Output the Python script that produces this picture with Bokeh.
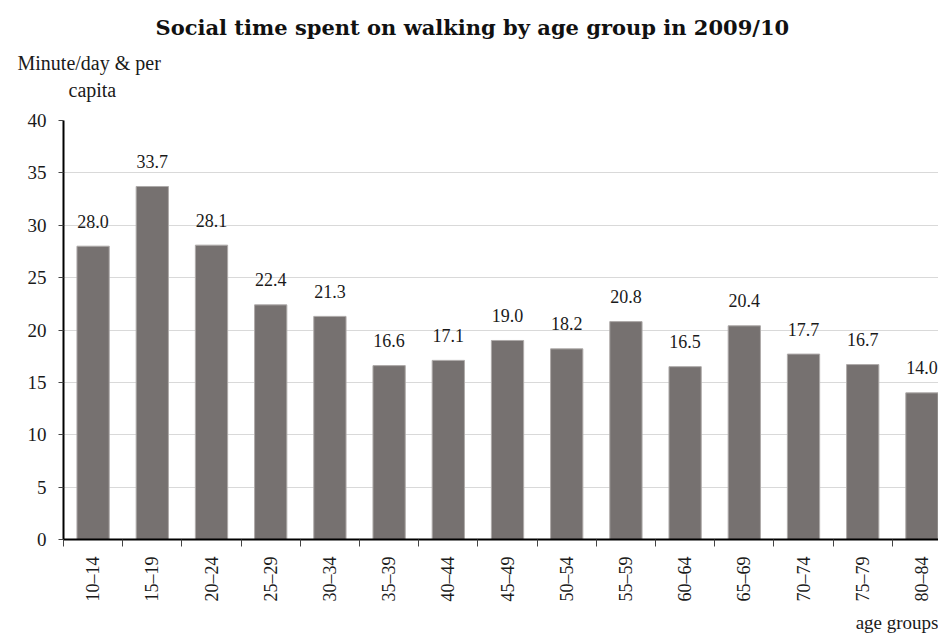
import math
from bokeh.plotting import figure
from bokeh.models import Range1d, FixedTicker, Title, ColumnDataSource, LinearAxis
from bokeh.core.properties import value
from bokeh.embed import file_html
from bokeh.resources import INLINE

categories = ["10–14", "15–19", "20–24", "25–29", "30–34", "35–39", "40–44", "45–49",
              "50–54", "55–59", "60–64", "65–69", "70–74", "75–79", "80–84"]
minutes = [28.0, 33.7, 28.1, 22.4, 21.3, 16.6, 17.1, 19.0, 18.2, 20.8, 16.5, 20.4, 17.7, 16.7, 14.0]
y_ticks = [0, 5, 10, 15, 20, 25, 30, 35, 40]

title_text = "Social time spent on walking by age group in 2009/10"
ylabel_lines = ["Minute/day & per", "capita"]
xlabel_text = "age groups"

FONT = "Liberation Serif"
TXT = "#1a1a1a"

xs = list(range(len(categories)))
src = ColumnDataSource(dict(x=xs, top=minutes, lab=[f"{v:.1f}" for v in minutes]))

p = figure(width=938, height=642, output_backend="svg", toolbar_location=None,
           x_range=Range1d(-0.5, 14.28), y_range=Range1d(0, 40),
           min_border_left=63, min_border_right=0, min_border_top=120, min_border_bottom=103)
p.outline_line_color = None
p.background_fill_color = "white"
p.border_fill_color = "white"

p.vbar(x="x", top="top", width=0.545, bottom=0, source=src,
       fill_color="#767170", line_color="#aeaaa9", line_width=1)

p.text(x="x", y="top", text="lab", source=src, text_align="center",
       text_baseline="alphabetic", y_offset=-25,
       text_font=value(FONT), text_font_size="18px", text_color=TXT)

# grid
p.xgrid.grid_line_color = None
p.ygrid.grid_line_color = "#d9d9d9"
p.ygrid.grid_line_width = 1
p.ygrid.ticker = FixedTicker(ticks=y_ticks)

# y axis
ya = p.yaxis[0]
ya.ticker = FixedTicker(ticks=y_ticks)
ya.axis_line_color = "black"
ya.axis_line_width = 2
ya.major_tick_line_color = "#444444"
ya.major_tick_out = 5
ya.major_tick_in = 0
ya.minor_tick_line_color = None
ya.major_label_standoff = 12
ya.major_label_text_font = FONT
ya.major_label_text_font_size = "19px"
ya.major_label_text_color = TXT

# x axis
xa = p.xaxis[0]
xa.ticker = FixedTicker(ticks=xs, minor_ticks=[i - 0.5 for i in range(len(categories) + 1)])
xa.major_label_overrides = {i: c for i, c in enumerate(categories)}
xa.major_label_orientation = math.pi / 2
xa.axis_line_color = "black"
xa.axis_line_width = 2
xa.major_tick_line_color = None
xa.major_tick_out = 7
xa.major_tick_in = 0
xa.minor_tick_line_color = "#444444"
xa.minor_tick_out = 7
xa.minor_tick_in = 0
xa.major_label_standoff = 10
xa.major_label_text_font = FONT
xa.major_label_text_font_size = "18px"
xa.major_label_text_color = TXT

# invisible spacer between the frame and the caption lines
spacer = LinearAxis(ticker=FixedTicker(ticks=[0]), axis_line_color=None,
                    major_tick_line_color=None, minor_tick_line_color=None,
                    major_tick_out=20, major_tick_in=0, minor_tick_out=0, minor_tick_in=0,
                    major_label_standoff=0, major_label_overrides={0: ""},
                    major_label_text_font_size="1px", major_label_text_alpha=0)
p.add_layout(spacer, "above")

# y-axis caption lines
t_cap = Title(text=ylabel_lines[1], align="left", offset=5, standoff=0,
              text_font=FONT, text_font_size="20px", text_font_style="normal", text_color=TXT)
t_min = Title(text=ylabel_lines[0], align="left", offset=-46, standoff=6,
              text_font=FONT, text_font_size="20px", text_font_style="normal", text_color=TXT)
p.add_layout(t_cap, "above")
p.add_layout(t_min, "above")

# title
p.title.text = title_text
p.title.align = "left"
p.title.offset = 92
p.title.standoff = 14
p.title.text_font = "DejaVu Serif"
p.title.text_font_size = "21px"
p.title.text_font_style = "bold"
p.title.text_color = "#111111"

t_x = Title(text=xlabel_text, align="right", standoff=10, text_font=FONT,
            text_font_size="19px", text_font_style="normal", text_color=TXT)
p.add_layout(t_x, "below")

open("out.html", "w").write(file_html(p, INLINE))
